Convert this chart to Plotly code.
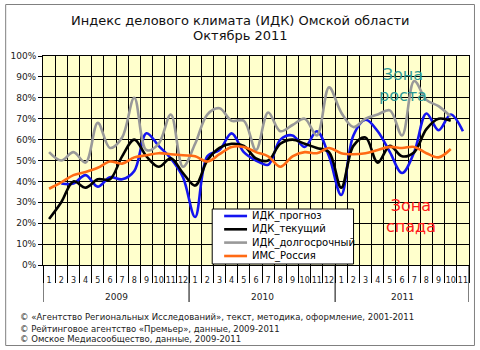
import plotly.graph_objects as go

# ---------------- data ----------------
months = [str(m) for m in range(1, 13)] + [str(m) for m in range(1, 13)] + [str(m) for m in range(1, 12)]
years = ["2009", "2010", "2011"]
year_centers = [5.5, 17.5, 29.0]
year_bounds = [-0.5, 11.5, 23.5, 34.5]

idk_forecast = [None, 39, 39, 43, 37.5, 42, 41, 45, 63, 57, 51, 42,
                23, 52, 55, 63, 54, 50, 48, 60, 62, 56.5, 64, 52,
                33.5, 62, 69.5, 64, 54, 44, 54, 72.5, 64.5, 72, 64]
idk_current = [22, 30, 40, 37, 41, 41, 52, 60, 52, 47, 51, 44,
               38, 50, 56, 58, 57, 51, 50, 58, 60, 58, 56, 54,
               37, 57, 61, 49, 57, 52, 54, 65, 70, 69, None]
idk_longterm = [54, 50, 54, 49, 68, 56, 61, 80, 55, 58, 72, 47,
                58, 72, 75, 69, 69, 55, 73, 64, 67, 70, 62, 85,
                73, 66, 70, 72, 74, 62, 88, 79, 76, 71, None]
ims_russia = [36.5, 39.5, 43, 44.5, 46.5, 49.5, 48.5, 51.5, 52.5, 53.5, 53, 52.5,
              52, 49.5, 53, 56.5, 56.5, 54, 52, 47, 52, 54, 53.5, 56,
              53.5, 53, 53.5, 55, 56.5, 56, 56.5, 53.5, 51.5, 55.5, None]

series_names = ["ИДК_прогноз", "ИДК_текущий", "ИДК_долгосрочный", "ИМС_Россия"]
series_values = [idk_forecast, idk_current, idk_longterm, ims_russia]
series_colors = ["#1414F0", "#000000", "#999999", "#FF6A14"]

title_lines = ["Индекс делового климата (ИДК) Омской области", "Октябрь 2011"]
footer_lines = [
    "© «Агентство Региональных Исследований», текст, методика, оформление, 2001-2011",
    "© Рейтинговое агентство «Премьер», данные, 2009-2011",
    "© Омское Медиасообщество, данные, 2009-2011",
]

FONT = "DejaVu Sans"

# ---------------- layout geometry (pixels) ----------------
W, H = 480, 350
L, R, T, B = 42, 10, 56, 85
pw, ph = W - L - R, H - T - B


def px_x(px):
    return (px - L) / pw


def px_y(py):
    return (H - B - py) / ph


x = list(range(len(months)))

fig = go.Figure()
for name, vals, col in zip(series_names, series_values, series_colors):
    fig.add_trace(go.Scatter(
        x=x, y=vals, name=name, mode="lines",
        line=dict(color=col, width=2.6, shape="spline", smoothing=1.0),
        connectgaps=False, showlegend=False, hoverinfo="skip"))

shapes = []
annotations = []

# outer border
shapes.append(dict(type="rect", xref="paper", yref="paper",
                   x0=px_x(4.5), x1=px_x(475.5), y0=px_y(345.5), y1=px_y(4.5),
                   line=dict(color="#808080", width=1), fillcolor="rgba(0,0,0,0)", layer="below"))

# year separators
for xb in year_bounds:
    shapes.append(dict(type="line", xref="x", yref="paper", x0=xb, x1=xb,
                       y0=0, y1=px_y(302), line=dict(color="#000000", width=1)))

# year labels
for yr, xc in zip(years, year_centers):
    annotations.append(dict(text=yr, x=xc, xref="x", y=px_y(297), yref="paper",
                            showarrow=False, xanchor="center", yanchor="middle",
                            font=dict(family=FONT, size=9, color="#222222")))

# title
for line, py in zip(title_lines, [20, 36]):
    annotations.append(dict(text=line, x=px_x(240), xref="paper", y=px_y(py), yref="paper",
                            showarrow=False, xanchor="center", yanchor="middle",
                            font=dict(family=FONT, size=13, color="#111111")))

# footer
for line, py in zip(footer_lines, [317, 328.5, 339]):
    annotations.append(dict(text=line, x=px_x(17), xref="paper", y=px_y(py), yref="paper",
                            showarrow=False, xanchor="left", yanchor="middle",
                            font=dict(family=FONT, size=8.5, color="#222222")))

# zone labels
annotations.append(dict(text="Зона<br>роста", x=29.1, xref="x", y=86, yref="y",
                        showarrow=False, xanchor="center", yanchor="middle",
                        font=dict(family=FONT, size=16, color="#2E9A94")))
annotations.append(dict(text="Зона<br>спада", x=29.7, xref="x", y=23.5, yref="y",
                        showarrow=False, xanchor="center", yanchor="middle",
                        font=dict(family=FONT, size=16, color="#FF1A1A")))

# legend (drawn box)
lx0, lx1, ly0, ly1 = 212, 354, 209, 264
shapes.append(dict(type="rect", xref="paper", yref="paper",
                   x0=px_x(lx0), x1=px_x(lx1), y0=px_y(ly1), y1=px_y(ly0),
                   line=dict(color="#000000", width=1), fillcolor="#FFFFFF"))
row_y = [216, 229.3, 242.6, 256]
for name, col, ry in zip(series_names, series_colors, row_y):
    shapes.append(dict(type="line", xref="paper", yref="paper",
                       x0=px_x(224), x1=px_x(247), y0=px_y(ry), y1=px_y(ry),
                       line=dict(color=col, width=2.6)))
    annotations.append(dict(text=name, x=px_x(250), xref="paper", y=px_y(ry), yref="paper",
                            showarrow=False, xanchor="left", yanchor="middle",
                            font=dict(family=FONT, size=10, color="#000000")))

fig.update_layout(
    width=W, height=H,
    margin=dict(l=L, r=R, t=T, b=B, pad=0),
    paper_bgcolor="#FFFFFF",
    plot_bgcolor="#FFFFCC",
    showlegend=False,
    shapes=shapes,
    annotations=annotations,
    xaxis=dict(
        range=[-0.5, 34.5], tickmode="array", tickvals=x, ticktext=months,
        ticks="", showgrid=False, zeroline=False, tickangle=0,
        showline=True, linecolor="#000000", linewidth=1, mirror=True,
        tickfont=dict(family=FONT, size=8, color="#222222"),
        ticklabelstandoff=7,
        minor=dict(tickmode="linear", tick0=-0.5, dtick=1, ticks="outside",
                   ticklen=17, tickcolor="#000000", tickwidth=1,
                   showgrid=True, gridcolor="#000000", gridwidth=1),
    ),
    yaxis=dict(
        range=[0, 100], dtick=10, ticksuffix="%",
        showgrid=True, gridcolor="#000000", gridwidth=1, zeroline=False,
        ticks="outside", ticklen=4, tickcolor="#000000",
        showline=True, linecolor="#000000", linewidth=1, mirror=True,
        tickfont=dict(family=FONT, size=9, color="#222222"),
    ),
)

fig.write_html("out.html")
